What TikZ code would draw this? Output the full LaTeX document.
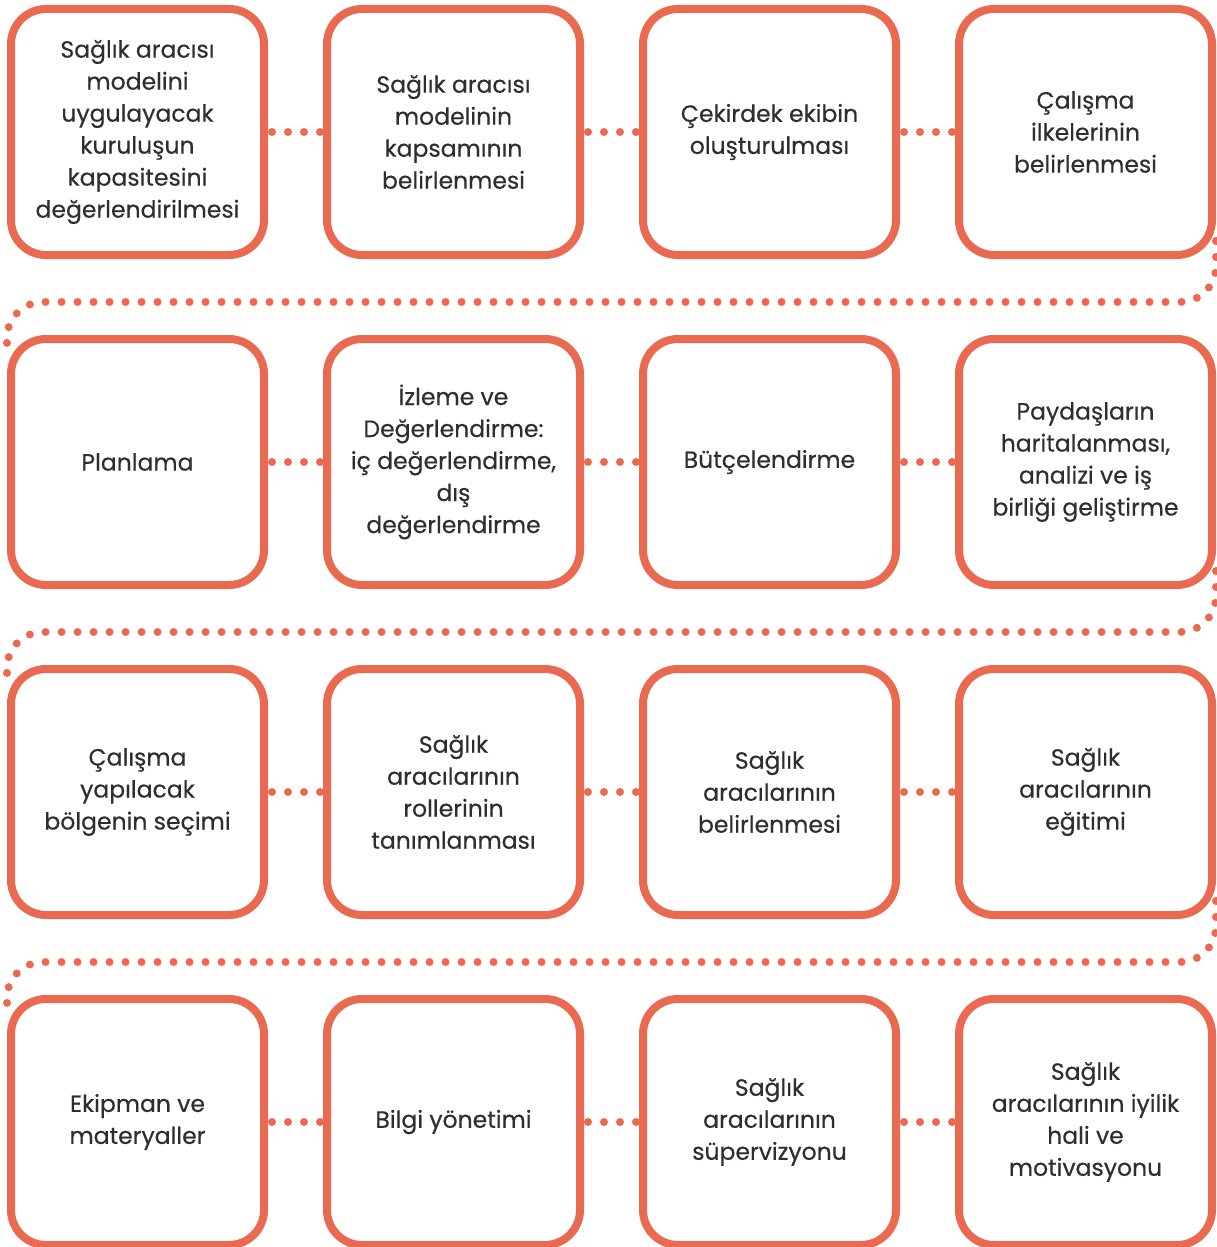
\documentclass[tikz,border=0pt]{standalone}
\usepackage{fontspec}
\setmainfont{Poppins}
\newfontfamily\stagefont[FakeBold=0.35]{Poppins}
\definecolor{coral}{HTML}{E96A51}
\definecolor{ink}{HTML}{2E2E2E}
\tikzset{
        stage/.style={draw=coral, line width=8pt, rounded corners=35pt, fill=white,
          minimum width=253pt, minimum height=246pt, inner sep=0pt, align=center,
          text=ink, font=\stagefont\fontsize{23.5}{32}\selectfont},
        dots/.style={draw=coral, line width=8pt, line cap=round, dash pattern=on 0pt off 16pt},
        wrap/.style={dots, rounded corners=36pt}
          }
\begin{document}
\begin{tikzpicture}[x=1pt, y=1pt]
        \useasboundingbox (0,0) rectangle (1217,-1247);
        % row 1
        \node[stage] (s1) at (137.5,-132) {Sağlık aracısı\\modelini\\uygulayacak\\kuruluşun\\kapasitesini\\değerlendirilmesi};
        \node[stage] (s2) at (453.5,-132) {Sağlık aracısı\\modelinin\\kapsamının\\belirlenmesi};
        \node[stage] (s3) at (769.5,-132) {Çekirdek ekibin\\oluşturulması};
        \node[stage] (s4) at (1085.5,-132) {Çalışma\\ilkelerinin\\belirlenmesi};
        % row 2
        \node[stage] (s5) at (137.5,-462) {Planlama};
        \node[stage] (s6) at (453.5,-462) {İzleme ve\\Değerlendirme:\\iç değerlendirme,\\dış\\değerlendirme};
        \node[stage] (s7) at (769.5,-462) {Bütçelendirme};
        \node[stage] (s8) at (1085.5,-462) {Paydaşların\\haritalanması,\\analizi ve iş\\birliği geliştirme};
        % row 3
        \node[stage] (s9) at (137.5,-792) {Çalışma\\yapılacak\\bölgenin seçimi};
        \node[stage] (s10) at (453.5,-792) {Sağlık\\aracılarının\\rollerinin\\tanımlanması};
        \node[stage] (s11) at (769.5,-792) {Sağlık\\aracılarının\\belirlenmesi};
        \node[stage] (s12) at (1085.5,-792) {Sağlık\\aracılarının\\eğitimi};
        % row 4
        \node[stage] (s13) at (137.5,-1122) {Ekipman ve\\materyaller};
        \node[stage] (s14) at (453.5,-1122) {Bilgi yönetimi};
        \node[stage] (s15) at (769.5,-1122) {Sağlık\\aracılarının\\süpervizyonu};
        \node[stage] (s16) at (1085.5,-1122) {Sağlık\\aracılarının iyilik\\hali ve\\motivasyonu};

        % dotted links inside a row
        \foreach \a/\b in {1/2,2/3,3/4,5/6,6/7,7/8,9/10,10/11,11/12,13/14,14/15,15/16}
          \draw[dots] ([xshift=4pt]s\a.east) -- (s\b.west);

        % dotted links from one row to the next
        \foreach \a/\b in {4/5,8/9,12/13}
          \draw[wrap] ([yshift=18pt]s\a.south east) -- ++(0,-61) -| ([yshift=-14pt]s\b.north west);
      \end{tikzpicture}
\end{document}
